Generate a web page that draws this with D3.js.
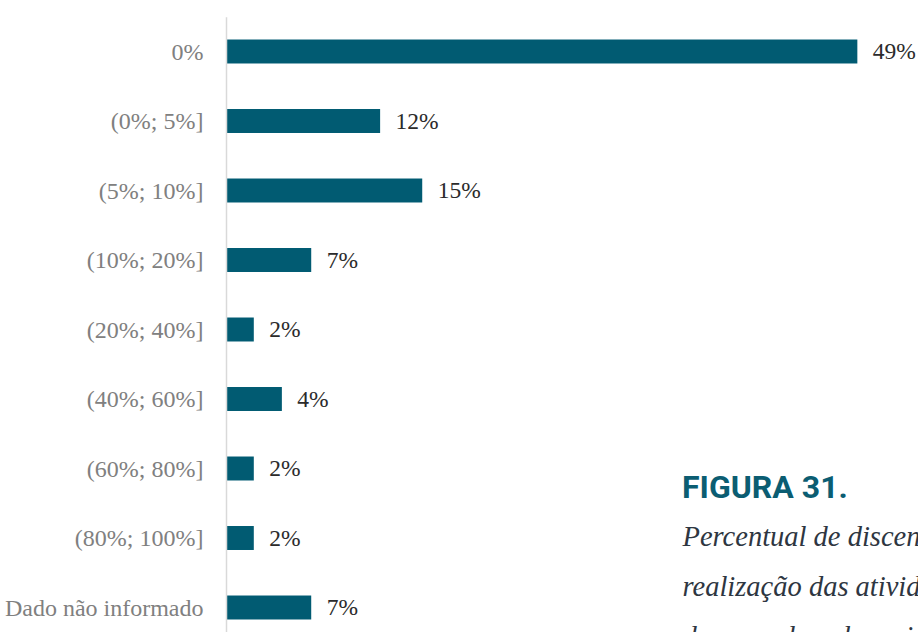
<!DOCTYPE html>
<html>
<head>
<meta charset="utf-8">
<script src="https://cdn.jsdelivr.net/npm/d3@7"></script>
<style>
  html, body { margin: 0; padding: 0; background: #ffffff; overflow: hidden; }
  svg { display: block; }
</style>
</head>
<body>
<svg id="chart" width="918" height="632"></svg>
<script>
// ---- data ----
const categories = ["0%", "(0%; 5%]", "(5%; 10%]", "(10%; 20%]", "(20%; 40%]", "(40%; 60%]", "(60%; 80%]", "(80%; 100%]", "Dado não informado"];
const values = [49.4, 12.0, 15.3, 6.6, 2.1, 4.3, 2.1, 2.1, 6.6];
const figureTitle = "FIGURA 31.";
const captionLines = ["Percentual de discentes que interromperam a", "realização das atividades, segundo a percepção", "dos coordenadores institucionais"];

// ---- layout ----
const W = 918, H = 632;
const axisX = 226;
const svg = d3.select("#chart");
svg.append("rect").attr("width", W).attr("height", H).attr("fill", "#ffffff");

const x = d3.scaleLinear().domain([0, 50]).range([227, 227 + 638]);
const y = d3.scaleBand().domain(categories)
  .range([16.75, 16.75 + 9 * 69.5])
  .paddingInner(0.655).paddingOuter(0.3275);

const barColor = "#015b72";

// bars
svg.append("g").selectAll("rect").data(values).join("rect")
  .attr("x", x(0))
  .attr("y", (d, i) => y(categories[i]))
  .attr("width", d => x(d) - x(0))
  .attr("height", y.bandwidth())
  .attr("fill", barColor);

// value labels
svg.append("g").selectAll("text").data(values).join("text")
  .attr("x", d => x(d) + 15.5)
  .attr("y", (d, i) => y(categories[i]) + y.bandwidth() / 2)
  .attr("dy", "0.34em")
  .attr("font-family", "'Liberation Serif', 'Times New Roman', serif")
  .attr("font-size", 23.5)
  .attr("fill", "#2b2b2b")
  .text(d => Math.round(d) + "%");

// category axis
const axis = svg.append("g")
  .attr("transform", `translate(${axisX},0)`)
  .call(d3.axisLeft(y).tickSize(0).tickPadding(22.5));
axis.attr("font-family", null).attr("font-size", null);
axis.select(".domain").attr("stroke", "#d9d9d9").attr("stroke-width", 1.5);
axis.selectAll(".tick text")
  .attr("dy", "0.34em")
  .attr("font-family", "'Liberation Serif', 'Times New Roman', serif")
  .attr("font-size", 24)
  .attr("fill", "#808080");

// figure title & caption
svg.append("text")
  .attr("x", 682)
  .attr("y", 497.7)
  .attr("font-family", "Roboto, 'Noto Sans', sans-serif")
  .attr("font-weight", 700)
  .attr("font-size", 32)
  .attr("fill", "#0b5d72")
  .text(figureTitle);

svg.append("g").selectAll("text").data(captionLines).join("text")
  .attr("x", 682.5)
  .attr("y", (d, i) => 545.7 + i * 50)
  .attr("font-family", "'Liberation Serif', 'Times New Roman', serif")
  .attr("font-style", "italic")
  .attr("font-size", 28.5)
  .attr("fill", "#2e3641")
  .text(d => d);
</script>
</body>
</html>
